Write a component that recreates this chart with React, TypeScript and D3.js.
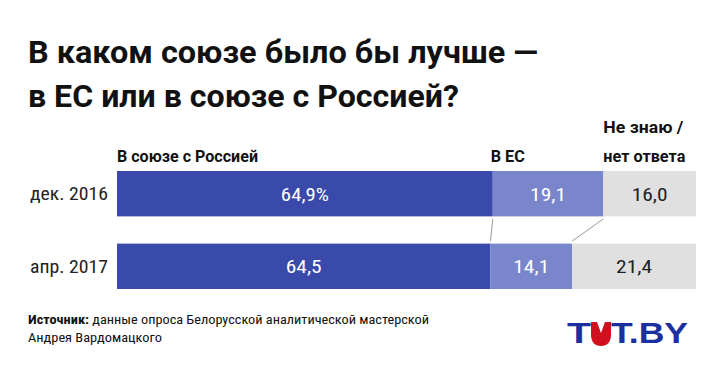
import React from "react";
import * as d3 from "d3";

const categories = ["дек. 2016", "апр. 2017"];
const seriesNames = ["В союзе с Россией", "В ЕС", "Не знаю / нет ответа"];
const russia = [64.9, 64.5];
const eu = [19.1, 14.1];
const dunno = [16.0, 21.4];
const valueLabels = [
  ["64,9%", "19,1", "16,0"],
  ["64,5", "14,1", "21,4"],
];
const colors = ["#3a4aaa", "#7986cb", "#e0e0e0"];
const textColors = ["#ffffff", "#ffffff", "#222222"];

const W = 720;
const H = 369;
const FONT = "'Liberation Sans Narrow', 'Roboto Condensed', Roboto, sans-serif";
const BOLD = "'Liberation Sans Narrow', Roboto, 'Liberation Sans', sans-serif";

const valueWidth = (s: string) => (s.endsWith("%") ? 48 : 36);

export default function App() {
  const x = d3.scaleLinear().domain([0, 100]).range([117, 696]);
  const y = d3.scaleBand().domain(categories).range([171, 289]).paddingInner(0.375);

  const rows = categories.map((c, i) => {
    const vals = [russia[i], eu[i], dunno[i]];
    let acc = 0;
    return vals.map((v, j) => {
      const s = { x0: acc, x1: acc + v, v, j, label: valueLabels[i][j] };
      acc += v;
      return s;
    });
  });

  const bw = y.bandwidth();
  const c0 = categories[0];
  const c1 = categories[1];
  const connectors = [0, 1].map((j) => ({
    xa: x(rows[0][j].x1),
    xb: x(rows[1][j].x1),
  }));

  return (
    <svg width={W} height={H} style={{ position: "absolute", left: 0, top: 0, background: "#fff" }}>
      <rect x={0} y={0} width={W} height={H} fill="#fff" />
      <g fontFamily={BOLD} fontWeight="bold" fill="#111" fontSize={31}>
        <text x={28} y={63} textLength={510} lengthAdjust="spacingAndGlyphs">В каком союзе было бы лучше —</text>
        <text x={28} y={107} textLength={431} lengthAdjust="spacingAndGlyphs">в ЕС или в союзе с Россией?</text>
      </g>
      <g fontFamily={BOLD} fontWeight="bold" fill="#111" fontSize={16.5}>
        <text x={x(0)} y={162} textLength={141} lengthAdjust="spacingAndGlyphs">{seriesNames[0]}</text>
        <text x={x(rows[0][1].x0) - 2} y={162} textLength={34} lengthAdjust="spacingAndGlyphs">{seriesNames[1]}</text>
        <text x={x(rows[0][2].x0)} y={133} textLength={80} lengthAdjust="spacingAndGlyphs">Не знаю /</text>
        <text x={x(rows[0][2].x0)} y={162} textLength={82} lengthAdjust="spacingAndGlyphs">нет ответа</text>
      </g>
      {categories.map((c, i) => (
        <g key={c}>
          <text
            x={30}
            y={(y(c) as number) + bw / 2}
            dy="0.36em"
            fontFamily={FONT}
            fontSize={18.5}
            fill="#222"
            textLength={78}
            lengthAdjust="spacingAndGlyphs"
          >
            {c}
          </text>
          {rows[i].map((s) => (
            <g key={s.j}>
              <rect
                x={x(s.x0)}
                y={y(c)}
                width={x(s.x1) - x(s.x0)}
                height={bw}
                fill={colors[s.j]}
              />
              <text
                x={(x(s.x0) + x(s.x1)) / 2 - valueWidth(s.label) / 2}
                y={(y(c) as number) + bw / 2}
                dy="0.36em"
                fontFamily={FONT}
                fontSize={19}
                fill={textColors[s.j]}
                textLength={valueWidth(s.label)}
                lengthAdjust="spacingAndGlyphs"
              >
                {s.label}
              </text>
            </g>
          ))}
        </g>
      ))}
      {connectors.map((cn, k) => (
        <line
          key={k}
          x1={cn.xa}
          y1={(y(c0) as number) + bw + 2.5}
          x2={cn.xb}
          y2={(y(c1) as number) - 2.5}
          stroke="#999"
          strokeWidth={1}
        />
      ))}
      <g fontFamily={FONT} fontSize={13.5} fill="#111">
        <text x={28} y={324} textLength={401} lengthAdjust="spacingAndGlyphs">
          <tspan fontWeight="bold">Источник:</tspan> данные опроса Белорусской аналитической мастерской
        </text>
        <text x={28} y={342} textLength={134} lengthAdjust="spacingAndGlyphs">Андрея Вардомацкого</text>
      </g>
      <g fontFamily="'Liberation Sans', Arial, sans-serif" fontWeight="900" fill="#1c2f9f" fontSize={29}>
        <text x={567} y={343} textLength={24} lengthAdjust="spacingAndGlyphs">T</text>
        <path
          d="M591,322 L597,322 L601,333 L605,322 L611,322 L611,334 Q611,346 601,346 Q591,346 591,334 Z"
          fill="#d0101e"
        />
        <text x={611} y={343} textLength={77} lengthAdjust="spacingAndGlyphs">T.BY</text>
      </g>
    </svg>
  );
}
